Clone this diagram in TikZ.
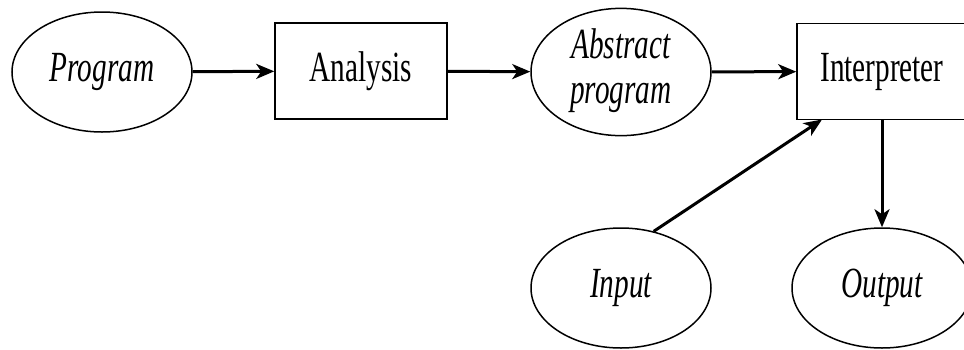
\documentclass[tikz,border=0pt]{standalone}
\usepackage{fontspec}
\usepackage{graphicx}
\setmainfont{Liberation Serif}
\newcommand{\squeezetxt}[1]{\scalebox{0.68}[1]{#1}}
\usetikzlibrary{shapes.geometric,arrows.meta}
\begin{document}
\begin{tikzpicture}[x=1pt,y=-1pt,
  oval/.style={draw,line width=1.5pt,ellipse,minimum width=180pt,minimum height=120pt,inner sep=0pt,font=\fontsize{43}{45}\selectfont\itshape},
  boxn/.style={draw,line width=1.5pt,rectangle,minimum width=172pt,minimum height=96pt,inner sep=0pt,font=\fontsize{43}{45}\selectfont},
  conn/.style={line width=3pt,-{Stealth[length=18pt,width=15pt,inset=5pt]}}]
\useasboundingbox (0,0) rectangle (964,349);
\node[oval] (prog) at (102,72) {\squeezetxt{Program}};
\node[oval,minimum height=122pt] (abs) at (621,72) {\squeezetxt{\begin{tabular}{@{}c@{}}Abstract\\program\end{tabular}}};
\node[boxn] (ana) at (361,71) {\squeezetxt{Analysis}};
\node[boxn,minimum width=170pt] (int) at (882,71.5) {\squeezetxt{Interpreter}};
\node[oval] (in) at (621,288) {\squeezetxt{Input}};
\node[oval] (out) at (882,288) {\squeezetxt{Output}};
\coordinate (inend) at (822,119.5);
\draw[conn] (prog) -- (ana);
\draw[conn] (ana) -- (abs);
\draw[conn] (abs) -- (int);
\draw[conn] (int.south) -- (out.north);
\draw[conn] (in.60) -- (inend);
\end{tikzpicture}
\end{document}
